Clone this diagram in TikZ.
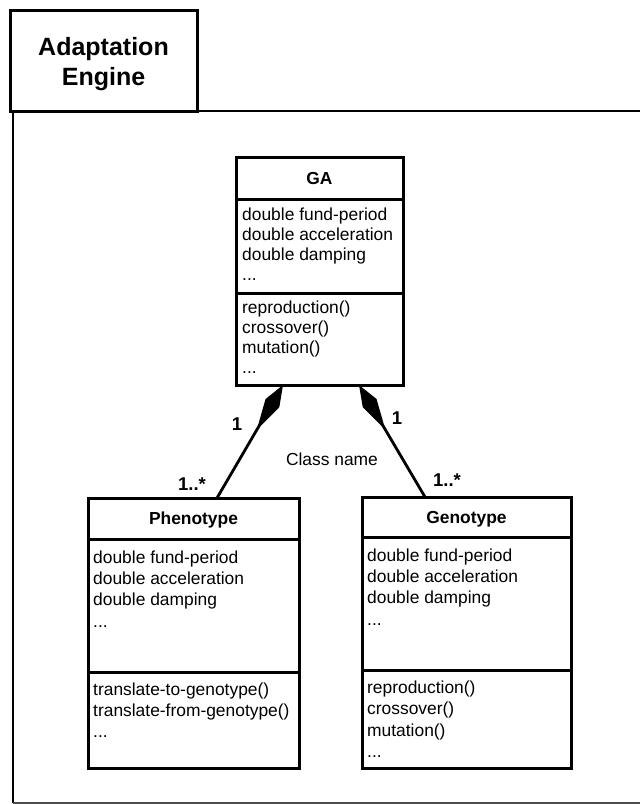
\documentclass[tikz,border=0pt]{standalone}
\usepackage{fontspec}
\setmainfont{Liberation Sans}
\usetikzlibrary{arrows.meta,calc}

\begin{document}
\begin{tikzpicture}[x=1pt,y=-1pt,
  boxline/.style={line width=3pt},
  classbox/.style={draw,line width=3pt,anchor=north west,inner sep=0pt,outer sep=0pt},
  txt/.style={anchor=base west,inner sep=0pt,font=\fontsize{17.4}{20}\selectfont},
  head/.style={anchor=base,inner sep=0pt,font=\fontsize{17.4}{20}\selectfont\bfseries},
  mult/.style={anchor=base,inner sep=0pt,font=\fontsize{18.5}{20}\selectfont\bfseries},
  assoc/.style={line width=2.8pt,{Kite[length=52pt,width=16pt,inset=31pt]}-}
]
\useasboundingbox (0,0) rectangle (640,804);

% package frame with its name tab
\node[classbox,minimum width=187pt,minimum height=101pt] (title) at (10,10) {};
\node[anchor=base,inner sep=0pt,font=\fontsize{25}{30}\selectfont\bfseries] (title1) at (103.5,55) {Adaptation};
\node[anchor=base,inner sep=0pt,font=\fontsize{25}{30}\selectfont\bfseries] (title2) at (103.5,85) {Engine};
\coordinate (fr-tr) at (640,111);
\coordinate (fr-bl) at (13,803);
\coordinate (fr-br) at (640,803);
\draw[line width=2.6pt] (title.south east) -- (fr-tr);
\draw[line width=2.6pt] (title.south west -| fr-bl) -- (fr-bl);
\draw[line width=1.4pt,black!70] (fr-bl) -- (fr-br);

% class GA
\node[classbox,minimum width=167pt,minimum height=228pt] (GA) at (236,157) {};
\draw[boxline] (GA.west |- 0,199) -- (GA.east |- 0,199);
\draw[boxline] (GA.west |- 0,293) -- (GA.east |- 0,293);
\node[head] (ga-name) at (319.5,184) {GA};
\node[txt] (ga-a1) at (242,220) {double fund-period};
\node[txt] (ga-a2) at (242,240) {double acceleration};
\node[txt] (ga-a3) at (242,260) {double damping};
\node[txt] (ga-a4) at (242,280) {...};
\node[txt] (ga-m1) at (242,313) {reproduction()};
\node[txt] (ga-m2) at (242,333) {crossover()};
\node[txt] (ga-m3) at (242,353) {mutation()};
\node[txt] (ga-m4) at (242,373) {...};

% class Phenotype
\node[classbox,minimum width=211pt,minimum height=270pt] (PH) at (88,498) {};
\draw[boxline] (PH.west |- 0,539) -- (PH.east |- 0,539);
\draw[boxline] (PH.west |- 0,672) -- (PH.east |- 0,672);
\node[head] (ph-name) at (193.5,524) {Phenotype};
\node[txt] (ph-a1) at (93,563) {double fund-period};
\node[txt] (ph-a2) at (93,584) {double acceleration};
\node[txt] (ph-a3) at (93,605) {double damping};
\node[txt] (ph-a4) at (93,627) {...};
\node[txt] (ph-m1) at (93,695) {translate-to-genotype()};
\node[txt] (ph-m2) at (93,716) {translate-from-genotype()};
\node[txt] (ph-m3) at (93,737) {...};

% class Genotype
\node[classbox,minimum width=209pt,minimum height=271pt] (GE) at (362,497) {};
\draw[boxline] (GE.west |- 0,537) -- (GE.east |- 0,537);
\draw[boxline] (GE.west |- 0,670) -- (GE.east |- 0,670);
\node[head] (ge-name) at (466.5,523) {Genotype};
\node[txt] (ge-a1) at (367,561) {double fund-period};
\node[txt] (ge-a2) at (367,582) {double acceleration};
\node[txt] (ge-a3) at (367,603) {double damping};
\node[txt] (ge-a4) at (367,625) {...};
\node[txt] (ge-m1) at (367,693) {reproduction()};
\node[txt] (ge-m2) at (367,714) {crossover()};
\node[txt] (ge-m3) at (367,736) {mutation()};
\node[txt] (ge-m4) at (367,757) {...};

% composition links
\coordinate (ga-l) at ($(GA.south)+(-36.5,0)$);
\coordinate (ga-r) at ($(GA.south)+(39.5,0)$);
\coordinate (ph-t) at ($(PH.north)+(23.5,0)$);
\coordinate (ge-t) at ($(GE.north)+(-41.5,0)$);
\draw[assoc] (ga-l) -- (ph-t);
\draw[assoc] (ga-r) -- (ge-t);

\node[mult] (m-l1) at (237,430) {1};
\node[mult] (m-l2) at (192,490) {1..*};
\node[mult] (m-r1) at (397,424) {1};
\node[mult] (m-r2) at (447,486) {1..*};
\node[anchor=base,inner sep=0pt,font=\fontsize{17.4}{20}\selectfont] (cname) at (332,465) {Class name};
\end{tikzpicture}
\end{document}
